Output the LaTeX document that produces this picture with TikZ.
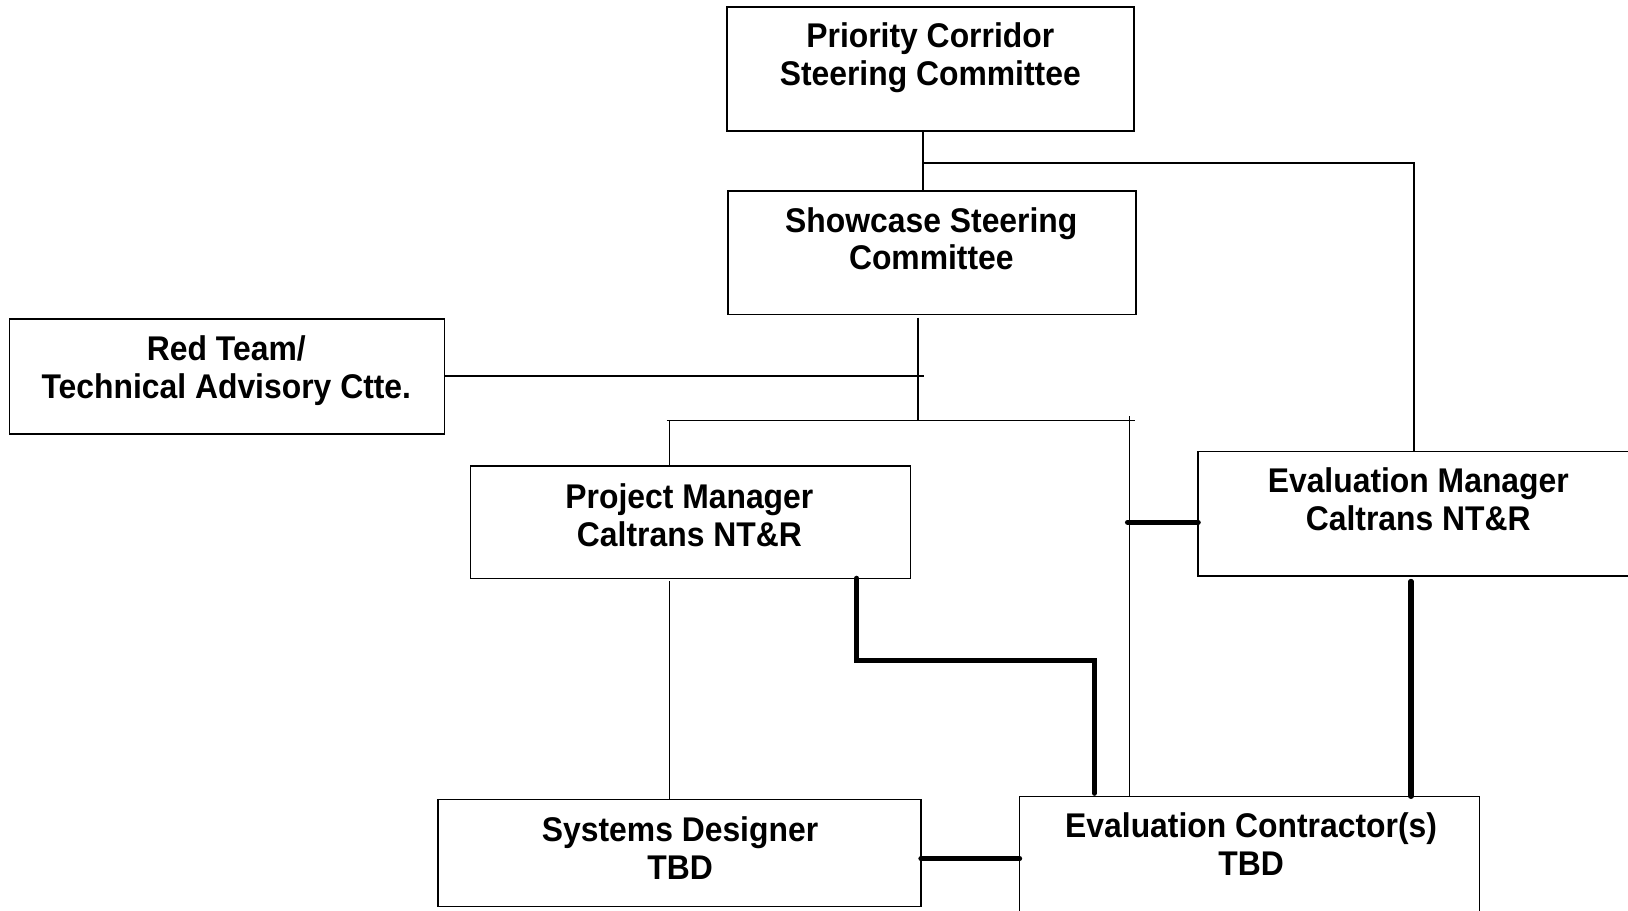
\documentclass[tikz,border=0pt]{standalone}
\usepackage{fontspec}
\newfontfamily\boxfont{Liberation Sans}[FakeStretch=0.93]
\begin{document}
\begin{tikzpicture}[x=1pt,y=-1pt,
  box/.style={draw, line width=1.5pt, inner sep=0pt, outer sep=0pt},
  txt/.style={font=\boxfont\bfseries\fontsize{33}{36.5}\selectfont, align=center, inner sep=0pt},
  thin/.style={line width=1.3pt},
  heavy/.style={line width=5pt, line cap=round}]
\useasboundingbox (0,0) rectangle (1568,877);
\clip (0,0) rectangle (1568,877);

% boxes
\node[box, minimum width=392pt, minimum height=119pt] (pc) at (896,66.5) {};
\node[box, minimum width=393pt, minimum height=119pt] (ss) at (897.5,243.5) {};
\node[box, minimum width=419pt, minimum height=111pt] (rt) at (218.5,362.5) {};
\node[box, minimum width=424pt, minimum height=108pt] (pm) at (665,503) {};
\node[box, minimum width=421pt, minimum height=120pt] (em) at (1364.5,495) {};
\node[box, minimum width=465pt, minimum height=103pt] (sd) at (654.5,821.5) {};
\node[box, minimum width=443pt, minimum height=116pt] (ec) at (1203.5,825) {};

% labels
\node[txt] (pc-t) at (896,56) {Priority Corridor\\Steering Committee};
\node[txt] (ss-t) at (897,230) {Showcase Steering\\Committee};
\node[txt] (rt-t) at (218,357) {Red Team/\\Technical Advisory Ctte.};
\node[txt] (pm-t) at (664,496.5) {Project Manager\\Caltrans NT\&R};
\node[txt] (em-t) at (1366,481) {Evaluation Manager\\Caltrans NT\&R};
\node[txt] (sd-t) at (655,817) {Systems Designer\\TBD};
\node[txt] (ec-t) at (1205,813) {Evaluation Contractor(s)\\TBD};

% junction points
\coordinate (tapA) at (889,157);
\coordinate (cornerA) at (1362,157);
\coordinate (busMid) at (884,405);
\coordinate (busL) at (642,405);
\coordinate (busR) at (1093,405);
\coordinate (rtEnd) at (890,362);
\coordinate (pmTap) at (645,405);
\coordinate (ecTap) at (1088,401);
\coordinate (pmSd) at (645,560);
\coordinate (pmEcA) at (825,636);
\coordinate (pmEcB) at (1054,636);
\coordinate (emLink) at (1086,503);
\coordinate (emEc) at (1359,560);
\coordinate (sdEc) at (936,827);

% thin reporting lines
\draw[thin] (pc.south -| tapA) -- (ss.north -| tapA);
\draw[thin] (tapA) -- (cornerA) -- (em.north -| cornerA);
\draw[thin] (ss.south -| busMid) ++(0,3) -- (busMid);
\draw[thin] (rt.east |- rtEnd) -- (rtEnd);
\draw[thin] (busL) -- (busR);
\draw[thin] (pmTap) -- (pm.north -| pmTap);
\draw[thin] (ecTap) -- (ec.north -| ecTap);
\draw[thin] (pmSd) -- (sd.north -| pmSd);

% heavy coordination lines
\draw[heavy] (pm.south -| pmEcA) -- (pmEcA) -- (pmEcB) -- ([yshift=3pt]ec.north -| pmEcB);
\draw[heavy] (emLink) -- (em.west |- emLink);
\draw[heavy] (emEc) -- (ec.north -| emEc);
\draw[heavy] (sd.east |- sdEc) -- (ec.west |- sdEc);
\end{tikzpicture}
\end{document}
